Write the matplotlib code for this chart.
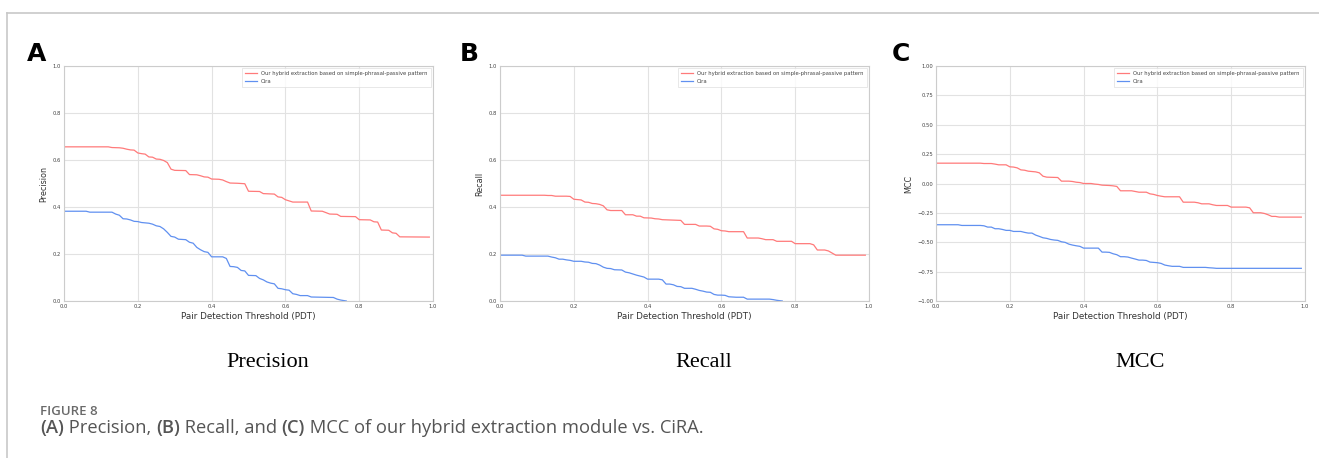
import matplotlib.pyplot as plt
from matplotlib.lines import Line2D

hyb_prec_x = [0.0, 0.12, 0.13, 0.15, 0.16, 0.17, 0.18, 0.19, 0.20, 0.21, 0.22, 0.23, 0.24, 0.25, 0.26,
              0.27, 0.28, 0.29, 0.30, 0.33, 0.34, 0.36, 0.37, 0.38, 0.39, 0.40, 0.42, 0.43, 0.44, 0.45,
              0.47, 0.48, 0.49, 0.50, 0.53, 0.54, 0.57, 0.58, 0.59, 0.60, 0.61, 0.62, 0.66, 0.67, 0.70,
              0.71, 0.72, 0.74, 0.75, 0.79, 0.80, 0.83, 0.84, 0.85, 0.86, 0.88, 0.89, 0.90, 0.91, 0.99]
hyb_prec_y = [0.656, 0.656, 0.653, 0.652, 0.650, 0.646, 0.643, 0.642, 0.630, 0.627, 0.625, 0.613, 0.612, 0.604, 0.603,
              0.598, 0.589, 0.561, 0.556, 0.555, 0.538, 0.537, 0.533, 0.528, 0.527, 0.519, 0.518, 0.515, 0.508, 0.502,
              0.501, 0.500, 0.499, 0.467, 0.466, 0.457, 0.455, 0.443, 0.441, 0.431, 0.426, 0.421, 0.421, 0.383, 0.382,
              0.376, 0.370, 0.369, 0.360, 0.359, 0.346, 0.345, 0.337, 0.336, 0.302, 0.301, 0.290, 0.288, 0.273, 0.272]
cira_prec_x = [0.0, 0.06, 0.07, 0.13, 0.14, 0.15, 0.16, 0.17, 0.18, 0.19, 0.20, 0.21, 0.23, 0.24, 0.25,
               0.26, 0.27, 0.28, 0.29, 0.30, 0.31, 0.33, 0.34, 0.35, 0.36, 0.37, 0.38, 0.39, 0.40, 0.43,
               0.44, 0.45, 0.46, 0.47, 0.48, 0.49, 0.50, 0.52, 0.53, 0.54, 0.55, 0.56, 0.57, 0.58, 0.59,
               0.60, 0.61, 0.62, 0.63, 0.64, 0.66, 0.67, 0.73, 0.74, 0.75, 0.765]
cira_prec_y = [0.382, 0.382, 0.378, 0.378, 0.370, 0.365, 0.350, 0.349, 0.345, 0.339, 0.338, 0.334, 0.331, 0.327, 0.320,
               0.317, 0.307, 0.292, 0.275, 0.272, 0.263, 0.261, 0.250, 0.246, 0.228, 0.218, 0.210, 0.207, 0.188, 0.188,
               0.181, 0.147, 0.146, 0.143, 0.130, 0.128, 0.109, 0.108, 0.096, 0.090, 0.081, 0.076, 0.073, 0.054, 0.052,
               0.048, 0.046, 0.031, 0.028, 0.023, 0.023, 0.017, 0.015, 0.008, 0.004, 0.0]

hyb_rec_x = [0.0, 0.12, 0.13, 0.14, 0.15, 0.18, 0.19, 0.20, 0.22, 0.23, 0.24, 0.25, 0.26, 0.27, 0.28,
             0.29, 0.30, 0.33, 0.34, 0.36, 0.37, 0.38, 0.39, 0.41, 0.42, 0.43, 0.44, 0.49, 0.50, 0.53,
             0.54, 0.56, 0.57, 0.58, 0.59, 0.60, 0.61, 0.62, 0.66, 0.67, 0.70, 0.71, 0.72, 0.74, 0.75,
             0.79, 0.80, 0.84, 0.85, 0.86, 0.88, 0.89, 0.90, 0.91, 0.99]
hyb_rec_y = [0.450, 0.450, 0.449, 0.449, 0.446, 0.446, 0.445, 0.433, 0.430, 0.421, 0.420, 0.415, 0.414, 0.411, 0.405,
             0.388, 0.385, 0.385, 0.367, 0.367, 0.361, 0.361, 0.354, 0.353, 0.350, 0.349, 0.346, 0.343, 0.326, 0.326,
             0.319, 0.319, 0.318, 0.307, 0.305, 0.299, 0.298, 0.295, 0.295, 0.268, 0.268, 0.265, 0.261, 0.261, 0.254,
             0.254, 0.244, 0.244, 0.239, 0.217, 0.217, 0.213, 0.204, 0.195, 0.195]
cira_rec_x = [0.0, 0.06, 0.07, 0.13, 0.14, 0.15, 0.16, 0.17, 0.18, 0.19, 0.20, 0.22, 0.23, 0.24, 0.25,
              0.26, 0.27, 0.28, 0.29, 0.30, 0.31, 0.33, 0.34, 0.35, 0.36, 0.37, 0.38, 0.39, 0.40, 0.43,
              0.44, 0.45, 0.46, 0.47, 0.48, 0.49, 0.50, 0.52, 0.53, 0.54, 0.55, 0.56, 0.57, 0.58, 0.59,
              0.60, 0.61, 0.62, 0.63, 0.64, 0.66, 0.67, 0.73, 0.74, 0.75, 0.765]
cira_rec_y = [0.195, 0.195, 0.191, 0.191, 0.187, 0.184, 0.178, 0.178, 0.175, 0.173, 0.169, 0.169, 0.166, 0.165, 0.160,
              0.159, 0.153, 0.144, 0.139, 0.138, 0.133, 0.132, 0.123, 0.120, 0.115, 0.110, 0.106, 0.102, 0.093, 0.093,
              0.090, 0.072, 0.072, 0.069, 0.062, 0.061, 0.054, 0.054, 0.050, 0.045, 0.042, 0.038, 0.037, 0.028, 0.025,
              0.025, 0.024, 0.018, 0.017, 0.016, 0.016, 0.008, 0.008, 0.006, 0.003, 0.0]

hyb_mcc_x = [0.0, 0.12, 0.13, 0.15, 0.16, 0.17, 0.19, 0.20, 0.21, 0.22, 0.23, 0.24, 0.25, 0.27, 0.28,
             0.29, 0.30, 0.33, 0.34, 0.36, 0.37, 0.38, 0.39, 0.40, 0.42, 0.43, 0.44, 0.45, 0.47, 0.48,
             0.49, 0.50, 0.53, 0.54, 0.55, 0.57, 0.58, 0.59, 0.60, 0.61, 0.62, 0.66, 0.67, 0.70, 0.71,
             0.72, 0.74, 0.75, 0.76, 0.79, 0.80, 0.84, 0.85, 0.86, 0.88, 0.89, 0.90, 0.91, 0.92, 0.93, 0.99]
hyb_mcc_y = [0.173, 0.173, 0.170, 0.170, 0.165, 0.159, 0.159, 0.142, 0.140, 0.133, 0.116, 0.113, 0.105, 0.099, 0.091,
             0.062, 0.054, 0.051, 0.020, 0.020, 0.017, 0.011, 0.008, 0.0, 0.0, -0.005, -0.008, -0.014, -0.017, -0.020,
             -0.025, -0.062, -0.062, -0.068, -0.074, -0.074, -0.088, -0.093, -0.102, -0.108, -0.113, -0.113, -0.159, -0.159, -0.164,
             -0.173, -0.173, -0.181, -0.187, -0.187, -0.201, -0.201, -0.207, -0.249, -0.249, -0.255, -0.266, -0.280, -0.280, -0.286, -0.286]
cira_mcc_x = [0.0, 0.06, 0.07, 0.12, 0.13, 0.14, 0.15, 0.16, 0.17, 0.18, 0.19, 0.20, 0.21, 0.23, 0.24,
              0.25, 0.26, 0.27, 0.28, 0.29, 0.30, 0.31, 0.32, 0.33, 0.34, 0.35, 0.36, 0.37, 0.38, 0.39,
              0.40, 0.44, 0.45, 0.46, 0.47, 0.48, 0.49, 0.50, 0.51, 0.52, 0.53, 0.54, 0.55, 0.56, 0.57,
              0.58, 0.60, 0.61, 0.62, 0.63, 0.64, 0.66, 0.67, 0.73, 0.74, 0.75, 0.76, 0.77, 0.99]
cira_mcc_y = [-0.351, -0.351, -0.357, -0.357, -0.360, -0.371, -0.371, -0.385, -0.385, -0.391, -0.399, -0.399, -0.408, -0.408, -0.416,
              -0.422, -0.422, -0.439, -0.450, -0.462, -0.467, -0.476, -0.481, -0.484, -0.496, -0.501, -0.516, -0.524, -0.530, -0.535,
              -0.550, -0.550, -0.584, -0.584, -0.586, -0.598, -0.606, -0.623, -0.623, -0.626, -0.635, -0.643, -0.652, -0.652, -0.655,
              -0.669, -0.674, -0.680, -0.694, -0.700, -0.705, -0.705, -0.714, -0.714, -0.717, -0.719, -0.722, -0.722, -0.722]

panels = [
    ("A", "Precision", "Precision", hyb_prec_x, hyb_prec_y, cira_prec_x, cira_prec_y, (0, 1), [0, 0.2, 0.4, 0.6, 0.8, 1.0], "{:.1f}"),
    ("B", "Recall", "Recall", hyb_rec_x, hyb_rec_y, cira_rec_x, cira_rec_y, (0, 1), [0, 0.2, 0.4, 0.6, 0.8, 1.0], "{:.1f}"),
    ("C", "MCC", "MCC", hyb_mcc_x, hyb_mcc_y, cira_mcc_x, cira_mcc_y, (-1, 1),
     [-1.0, -0.75, -0.5, -0.25, 0.0, 0.25, 0.5, 0.75, 1.0], "{:.2f}"),
]
x_ticks = [0.0, 0.2, 0.4, 0.6, 0.8, 1.0]

hyb_label = "Our hybrid extraction based on simple-phrasal-passive pattern"
cira_label = "Cira"
red = "#ff7a7a"
blue = "#6090f0"

W, H = 1319, 458
fig = plt.figure(figsize=(W / 100, H / 100), dpi=100)

lefts = [64, 500, 936]
letter_x = [27, 460, 892]
for (letter, ylab, cap, hx, hy, cx, cy, ylim, yt, fmt), lx, ltx in zip(panels, lefts, letter_x):
    ax = fig.add_axes([lx / W, (H - 301) / H, 369 / W, 235 / H])
    ax.plot(hx, hy, color=red, lw=0.9, label=hyb_label)
    ax.plot(cx, cy, color=blue, lw=0.9, label=cira_label)
    ax.set_xlim(0, 1)
    ax.set_ylim(*ylim)
    ax.set_xticks(x_ticks)
    ax.set_xticklabels(["{:.1f}".format(t) for t in x_ticks])
    ax.set_yticks(yt)
    ax.set_yticklabels([fmt.format(t).replace("-", "\u2212") for t in yt])
    ax.tick_params(length=0, labelsize=3.8, labelcolor="#444", pad=2)
    ax.grid(True, color="#e2e2e2", lw=0.8)
    ax.set_axisbelow(True)
    for s in ax.spines.values():
        s.set_color("#cccccc")
        s.set_linewidth(0.8)
    ax.set_xlabel("Pair Detection Threshold (PDT)", fontsize=6.3, color="#333", labelpad=2)
    ax.set_ylabel(ylab, fontsize=5.8, color="#333", labelpad=3)
    leg = ax.legend(loc="upper right", fontsize=3.8, frameon=True, fancybox=False,
                    borderpad=0.6, handlelength=2.2, labelspacing=0.45, borderaxespad=0.4)
    leg.get_frame().set_edgecolor("#dddddd")
    leg.get_frame().set_linewidth(0.6)
    for t in leg.get_texts():
        t.set_color("#444")
    fig.text(ltx / W, 1 - 54 / H, letter, fontsize=18, fontweight="bold", va="center", ha="left")
    fig.text((lx + 204) / W, 1 - 367 / H, cap, fontsize=16, family="Liberation Serif",
             ha="center", va="baseline")

# page frame
fig.add_artist(Line2D([6.5 / W, 6.5 / W], [0, 1 - 12.5 / H], color="#c8c8c8", lw=1.2))
fig.add_artist(Line2D([6.5 / W, 1], [1 - 12.5 / H, 1 - 12.5 / H], color="#c8c8c8", lw=1.2))

fig.text(40 / W, 1 - 415 / H, "FIGURE 8", fontsize=9.5, family="Open Sans", fontweight="semibold",
         color="#6a6a6a", va="baseline", ha="left")

# caption with bold panel refs, pieces chained one after another
parts = [("(A)", "semibold"), (" Precision, ", "normal"), ("(B)", "semibold"), (" Recall, and ", "normal"),
         ("(C)", "semibold"), (" MCC of our hybrid extraction module vs. CiRA.", "normal")]
prev = fig.text(40 / W, 1 - 433 / H, parts[0][0], fontsize=13.2, family="Open Sans",
                fontweight=parts[0][1], color="#555555", va="baseline", ha="left")
for txt, w in parts[1:]:
    prev = fig.add_artist(plt.Annotation(txt, xy=(1, 0), xycoords=prev, fontsize=13.2,
                                         family="Open Sans", fontweight=w, color="#555555",
                                         va="bottom", ha="left"))

fig.savefig("out.png", dpi=100)
